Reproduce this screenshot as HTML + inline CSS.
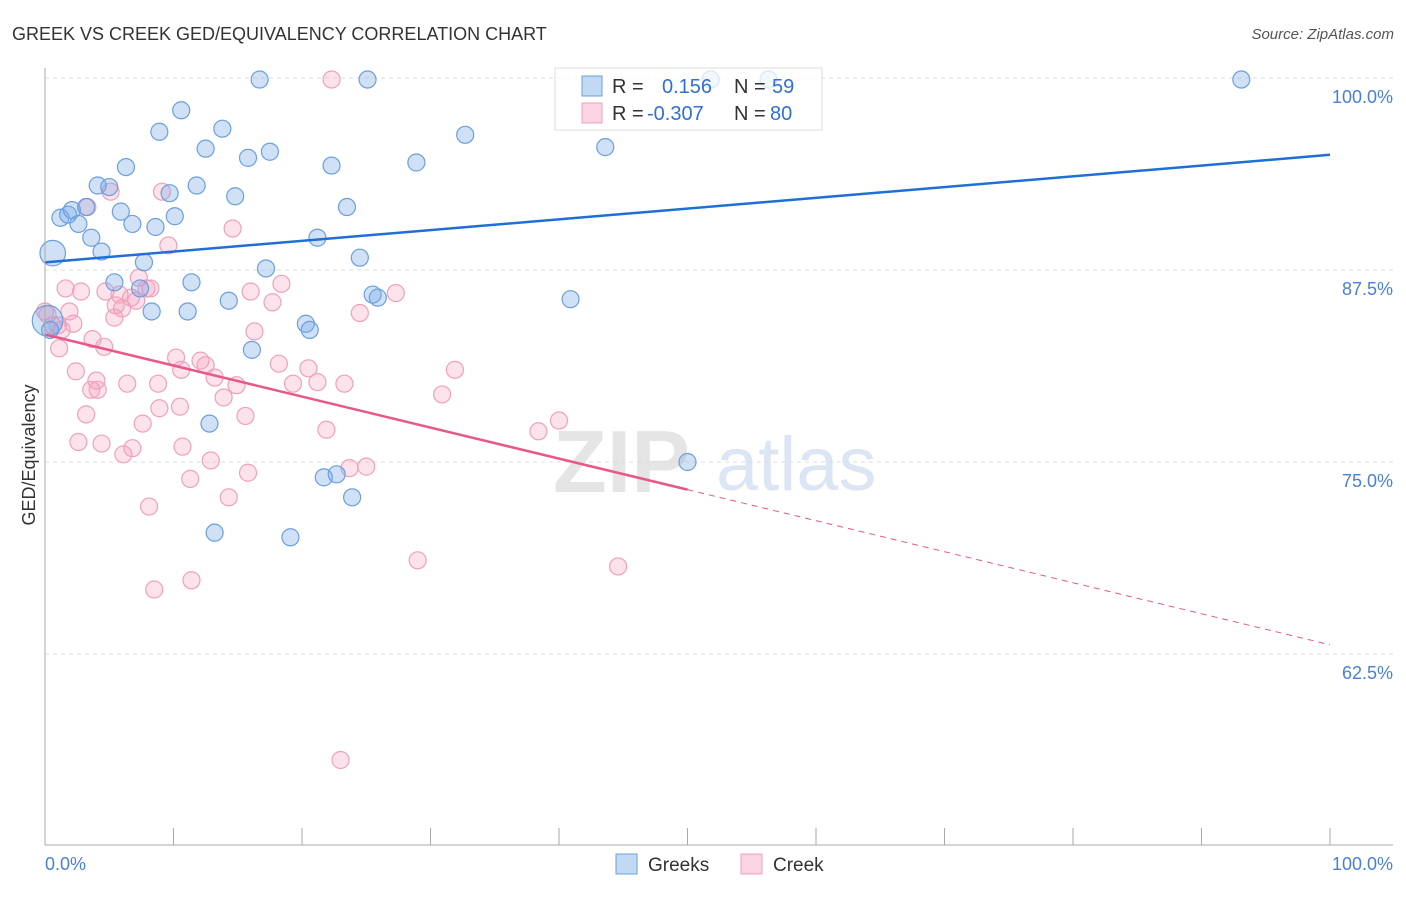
<!DOCTYPE html>
<html><head><meta charset="utf-8"><style>
body{margin:0;background:#fff;font-family:"Liberation Sans",sans-serif}
svg text{font-family:"Liberation Sans",sans-serif}
</style></head><body>
<svg id="c" width="1406" height="892">
<text x="12" y="40" font-size="18" fill="#333">GREEK VS CREEK GED/EQUIVALENCY CORRELATION CHART</text>
<text x="1394" y="39" font-size="15" fill="#555" font-style="italic" text-anchor="end">Source: ZipAtlas.com</text>
<g opacity="0.5">
<text x="553" y="492" font-size="88" font-family="Liberation Serif" fill="#ccc" font-weight="bold">ZIP</text>
<text x="716" y="490" font-size="76" fill="#b8cdea">atlas</text>
</g>
<g id="grid"></g><g id="pts"></g><g id="lines"></g><g id="axes"></g>
<text transform="translate(35,455) rotate(-90)" font-size="18" fill="#333" text-anchor="middle">GED/Equivalency</text>
<g>
<rect x="555" y="68" width="267" height="62" fill="rgba(255,255,255,0.75)" stroke="#ddd"/>
<rect x="582" y="76" width="20" height="20" fill="rgba(120,170,230,0.45)" stroke="#6a9fe0"/>
<rect x="582" y="103" width="20" height="20" fill="rgba(245,160,190,0.45)" stroke="#f0a0bc"/>
<text x="612" y="93" font-size="20" fill="#333">R =</text>
<text x="662" y="93" font-size="20" fill="#2f6fd6">0.156</text>
<text x="734" y="93" font-size="20" fill="#333">N =</text>
<text x="772" y="93" font-size="20" fill="#2f6fd6">59</text>
<text x="612" y="120" font-size="20" fill="#333">R =</text>
<text x="647" y="120" font-size="20" fill="#2f6fd6">-0.307</text>
<text x="734" y="120" font-size="20" fill="#333">N =</text>
<text x="770" y="120" font-size="20" fill="#2f6fd6">80</text>
</g>
<g><rect x="616" y="854" width="21" height="20" fill="rgba(120,170,230,0.45)" stroke="#6a9fe0"/><text x="648" y="871" font-size="19" fill="#333">Greeks</text></g>
<g><rect x="741" y="854" width="21" height="20" fill="rgba(245,160,190,0.45)" stroke="#f0a0bc"/><text x="773" y="871" font-size="19" fill="#333">Creek</text></g>
</svg>
<script>
const yTicks=[100,87.5,75,62.5];
const yTickLabels=["100.0%","87.5%","75.0%","62.5%"];
const xTickVals=[0,10,20,30,40,50,60,70,80,90,100];
const blueX=[16.7,25.1,51.8,56.3,93.1,10.6,8.9,13.8,32.7,12.5,15.8,17.5,22.3,28.9,43.6,6.3,4.1,5.0,9.7,11.8,14.8,23.5,1.2,1.8,2.1,3.2,5.9,10.1,2.6,6.8,8.6,3.6,21.2,0.6,4.4,7.7,24.5,17.2,5.4,11.4,7.4,25.5,25.9,14.3,40.9,8.3,11.1,20.3,20.6,16.1,0.2,0.4,12.8,50.0,21.7,22.7,23.9,13.2,19.1];
const blueY=[99.9,99.9,99.9,99.9,99.9,97.9,96.5,96.7,96.3,95.4,94.8,95.2,94.3,94.5,95.5,94.2,93.0,92.9,92.5,93.0,92.3,91.6,90.9,91.1,91.4,91.6,91.3,91.0,90.5,90.5,90.3,89.6,89.6,88.6,88.7,88.0,88.3,87.6,86.7,86.7,86.3,85.9,85.7,85.5,85.6,84.8,84.8,84.0,83.6,82.3,84.2,83.6,77.5,75.0,74.0,74.2,72.7,70.4,70.1];
const blueSize=[1,1,1,1,1,1,1,1,1,1,1,1,1,1,1,1,1,1,1,1,1,1,1,1,1,1,1,1,1,1,1,1,1,1.5,1,1,1,1,1,1,1,1,1,1,1,1,1,1,1,1,1.8,1,1,1,1,1,1,1,1];
const pinkX=[22.3,9.1,5.1,3.3,14.6,9.6,1.6,2.8,4.7,7.3,8.2,7.9,16.0,18.4,17.7,27.3,24.5,5.5,6.0,6.7,7.1,5.4,0.2,0.6,1.0,1.9,2.2,3.7,4.6,1.1,16.3,10.2,10.6,12.5,13.2,18.2,20.5,31.9,2.4,4.0,3.6,4.1,6.4,8.8,14.9,19.3,21.2,23.3,30.9,13.9,8.9,10.5,3.2,15.6,7.6,21.9,38.4,40.0,2.6,4.4,10.7,6.8,6.1,12.9,15.8,23.7,25.0,11.3,14.3,8.1,29.0,44.6,11.4,8.5,23.0,5.8,12.1,0,1.3];
const pinkY=[99.9,92.6,92.6,91.6,90.2,89.1,86.3,86.1,86.1,87.0,86.3,86.3,86.1,86.6,85.4,86.0,84.7,85.2,85.0,85.7,85.5,84.4,84.6,83.9,83.9,84.8,84.0,83.0,82.5,82.4,83.5,81.8,81.0,81.3,80.5,81.4,81.1,81.0,80.9,80.3,79.7,79.7,80.1,80.1,80.0,80.1,80.2,80.1,79.4,79.2,78.5,78.6,78.1,78.0,77.5,77.1,77.0,77.7,76.3,76.2,76.0,75.9,75.5,75.1,74.3,74.6,74.7,73.9,72.7,72.1,68.6,68.2,67.3,66.7,55.6,85.9,81.6,84.8,83.6];
const blueTrend=[88.0,95.0];
const pinkTrend=[83.3,63.1];
const pinkSolidEnd=50;
const NS="http://www.w3.org/2000/svg";
const X0=45,X1=1330,Y100=78,PPU=15.36;
function sx(v){return X0+(X1-X0)*v/100;}
function sy(v){return Y100+(100-v)*PPU;}
function mk(tag,attrs,parent){const e=document.createElementNS(NS,tag);for(const k in attrs)e.setAttribute(k,attrs[k]);parent.appendChild(e);return e;}
const grid=document.getElementById('grid'),pts=document.getElementById('pts'),lines=document.getElementById('lines'),axes=document.getElementById('axes');
yTicks.forEach((t,i)=>{
 const l=mk('line',{x1:X0,x2:1393,y1:sy(t),y2:sy(t),stroke:'#ddd','stroke-dasharray':'4,4'},grid);
 
 
 const tx=mk('text',{x:1393,y:sy(t)+25,'font-size':18,fill:'#4a7fd6','text-anchor':'end'},axes);
 tx.textContent=yTickLabels[i];
 
 
});
const ax=mk('line',{x1:X0,x2:X0,y1:68,y2:845,stroke:'#aaa'},axes);


const bx=mk('line',{x1:X0,x2:1393,y1:845,y2:845,stroke:'#aaa'},axes);


xTickVals.forEach(v=>{
 const t=mk('line',{x1:sx(v),x2:sx(v),y1:828,y2:845,stroke:'#aaa'},axes);
 
 
});
const xl0=mk('text',{x:45,y:870,'font-size':18,fill:'#4a7fd6'},axes);xl0.textContent='0.0%';


const xl1=mk('text',{x:1393,y:870,'font-size':18,fill:'#4a7fd6','text-anchor':'end'},axes);xl1.textContent='100.0%';


pinkX.forEach((x,i)=>{
 const c=mk('circle',{cx:sx(x),cy:sy(pinkY[i]),r:8.5,fill:'rgba(245,160,190,0.3)',stroke:'#f0a0bc','stroke-width':1.2},pts);
 
 
});
blueX.forEach((x,i)=>{
 const c=mk('circle',{cx:sx(x),cy:sy(blueY[i]),r:8.5*blueSize[i],fill:'rgba(120,170,230,0.35)',stroke:'#6a9fe0','stroke-width':1.2},pts);
 
 
});
const bl=mk('line',{x1:sx(0),y1:sy(blueTrend[0]),x2:sx(100),y2:sy(blueTrend[1]),stroke:'#1f6fd6','stroke-width':2.5},lines);


const pv=v=>pinkTrend[0]+(pinkTrend[1]-pinkTrend[0])*v/100;
const pl=mk('line',{x1:sx(0),y1:sy(pv(0)),x2:sx(pinkSolidEnd),y2:sy(pv(pinkSolidEnd)),stroke:'#e8578a','stroke-width':2.5},lines);


const pd=mk('line',{x1:sx(pinkSolidEnd),y1:sy(pv(pinkSolidEnd)),x2:sx(100),y2:sy(pv(100)),stroke:'#e8578a','stroke-width':1,'stroke-dasharray':'6,5'},lines);


</script>
</body></html>
